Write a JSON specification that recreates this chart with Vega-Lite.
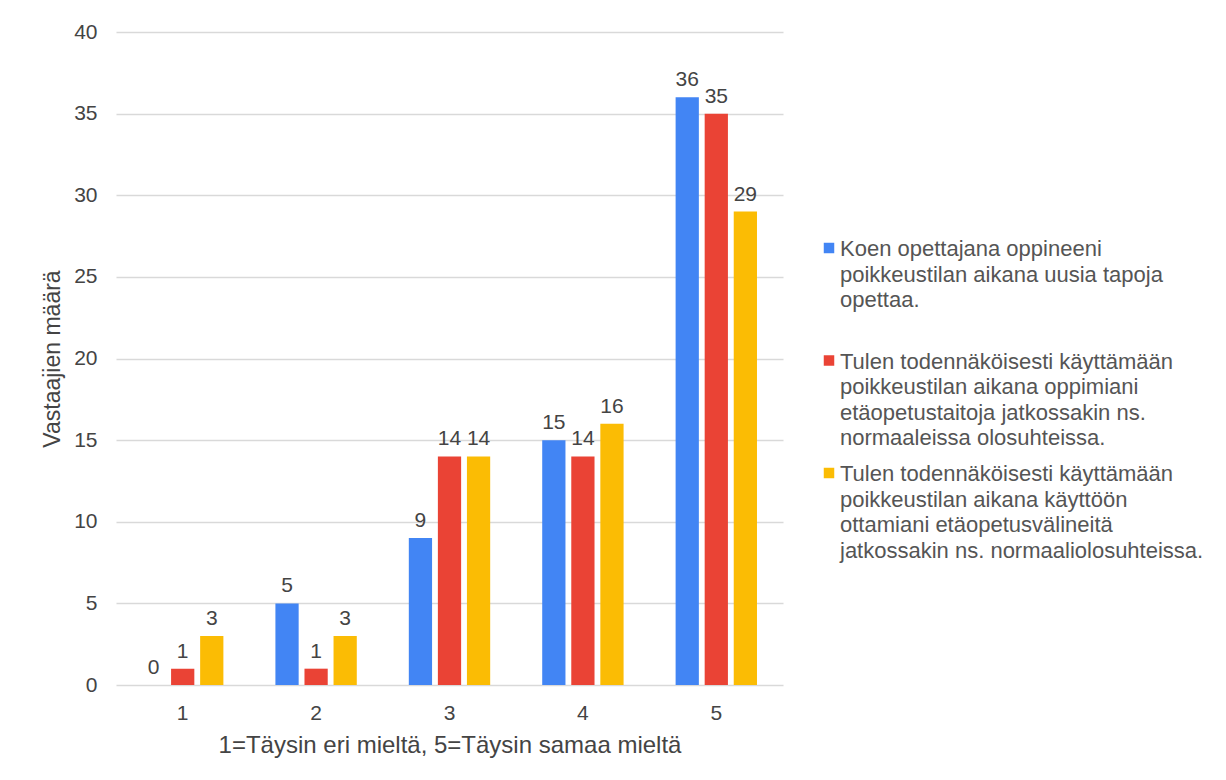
{
  "$schema": "https://vega.github.io/schema/vega-lite/v6.json",
  "width": 667,
  "height": 653,
  "autosize": {"type": "none"},
  "padding": {"left": 116, "top": 32, "right": 443, "bottom": 95},
  "background": "white",
  "data": {
    "values": [
      {"cat": "1", "series": "Koen opettajana oppineeni poikkeustilan aikana uusia tapoja opettaa.", "n": 0},
      {"cat": "1", "series": "Tulen todennäköisesti käyttämään poikkeustilan aikana oppimiani etäopetustaitoja jatkossakin ns. normaaleissa olosuhteissa.", "n": 1},
      {"cat": "1", "series": "Tulen todennäköisesti käyttämään poikkeustilan aikana käyttöön ottamiani etäopetusvälineitä jatkossakin ns. normaaliolosuhteissa.", "n": 3},
      {"cat": "2", "series": "Koen opettajana oppineeni poikkeustilan aikana uusia tapoja opettaa.", "n": 5},
      {"cat": "2", "series": "Tulen todennäköisesti käyttämään poikkeustilan aikana oppimiani etäopetustaitoja jatkossakin ns. normaaleissa olosuhteissa.", "n": 1},
      {"cat": "2", "series": "Tulen todennäköisesti käyttämään poikkeustilan aikana käyttöön ottamiani etäopetusvälineitä jatkossakin ns. normaaliolosuhteissa.", "n": 3},
      {"cat": "3", "series": "Koen opettajana oppineeni poikkeustilan aikana uusia tapoja opettaa.", "n": 9},
      {"cat": "3", "series": "Tulen todennäköisesti käyttämään poikkeustilan aikana oppimiani etäopetustaitoja jatkossakin ns. normaaleissa olosuhteissa.", "n": 14},
      {"cat": "3", "series": "Tulen todennäköisesti käyttämään poikkeustilan aikana käyttöön ottamiani etäopetusvälineitä jatkossakin ns. normaaliolosuhteissa.", "n": 14},
      {"cat": "4", "series": "Koen opettajana oppineeni poikkeustilan aikana uusia tapoja opettaa.", "n": 15},
      {"cat": "4", "series": "Tulen todennäköisesti käyttämään poikkeustilan aikana oppimiani etäopetustaitoja jatkossakin ns. normaaleissa olosuhteissa.", "n": 14},
      {"cat": "4", "series": "Tulen todennäköisesti käyttämään poikkeustilan aikana käyttöön ottamiani etäopetusvälineitä jatkossakin ns. normaaliolosuhteissa.", "n": 16},
      {"cat": "5", "series": "Koen opettajana oppineeni poikkeustilan aikana uusia tapoja opettaa.", "n": 36},
      {"cat": "5", "series": "Tulen todennäköisesti käyttämään poikkeustilan aikana oppimiani etäopetustaitoja jatkossakin ns. normaaleissa olosuhteissa.", "n": 35},
      {"cat": "5", "series": "Tulen todennäköisesti käyttämään poikkeustilan aikana käyttöön ottamiani etäopetusvälineitä jatkossakin ns. normaaliolosuhteissa.", "n": 29}
    ]
  },
  "encoding": {
    "x": {
      "field": "cat", "type": "nominal",
      "scale": {"paddingInner": 0.39, "paddingOuter": 0.195},
      "axis": {
        "title": "1=Täysin eri mieltä, 5=Täysin samaa mieltä",
        "labelAngle": 0, "ticks": false, "domain": false,
        "labelPadding": 17, "titlePadding": 10, "titleFontSize": 24
      }
    },
    "xOffset": {
      "field": "series", "type": "nominal",
      "sort": [
        "Koen opettajana oppineeni poikkeustilan aikana uusia tapoja opettaa.",
        "Tulen todennäköisesti käyttämään poikkeustilan aikana oppimiani etäopetustaitoja jatkossakin ns. normaaleissa olosuhteissa.",
        "Tulen todennäköisesti käyttämään poikkeustilan aikana käyttöön ottamiani etäopetusvälineitä jatkossakin ns. normaaliolosuhteissa."
      ],
      "scale": {"paddingInner": 0.2, "paddingOuter": 0}
    },
    "y": {
      "field": "n", "type": "quantitative",
      "scale": {"domain": [0, 40]},
      "axis": {
        "title": "Vastaajien määrä",
        "values": [0, 5, 10, 15, 20, 25, 30, 35, 40],
        "ticks": false, "domain": false,
        "labelPadding": 19, "titlePadding": 9, "titleFontSize": 23
      }
    }
  },
  "layer": [
    {
      "mark": {"type": "bar"},
      "encoding": {
        "color": {
          "field": "series", "type": "nominal",
          "scale": {
            "domain": [
              "Koen opettajana oppineeni poikkeustilan aikana uusia tapoja opettaa.",
              "Tulen todennäköisesti käyttämään poikkeustilan aikana oppimiani etäopetustaitoja jatkossakin ns. normaaleissa olosuhteissa.",
              "Tulen todennäköisesti käyttämään poikkeustilan aikana käyttöön ottamiani etäopetusvälineitä jatkossakin ns. normaaliolosuhteissa."
            ],
            "range": ["#4285F4", "#EA4335", "#FBBC04"]
          },
          "legend": {
            "title": null,
            "orient": "none",
            "legendX": 702,
            "legendY": 205,
            "symbolType": "square",
            "symbolSize": 110,
            "symbolStrokeWidth": 0,
            "labelLimit": 420,
            "labelBaseline": "top",
            "labelOffset": 0,
            "rowPadding": 12.5,
            "gridAlign": "all",
            "labelExpr": "test(/^Koen/, datum.label) ? ['Koen opettajana oppineeni', 'poikkeustilan aikana uusia tapoja', 'opettaa.'] : (test(/oppimiani/, datum.label) ? ['Tulen todennäköisesti käyttämään', 'poikkeustilan aikana oppimiani', 'etäopetustaitoja jatkossakin ns.', 'normaaleissa olosuhteissa.'] : ['Tulen todennäköisesti käyttämään', 'poikkeustilan aikana käyttöön', 'ottamiani etäopetusvälineitä', 'jatkossakin ns. normaaliolosuhteissa.'])",
            "encode": {"labels": {"update": {"lineHeight": {"value": 25.5}, "dy": {"value": -9}}}}
          }
        }
      }
    },
    {
      "mark": {"type": "text", "baseline": "bottom", "dy": -7, "fontSize": 21, "font": "Liberation Sans", "color": "#444444"},
      "encoding": {"text": {"field": "n", "type": "quantitative"}}
    }
  ],
  "config": {
    "view": {"stroke": null},
    "font": "Liberation Sans",
    "axis": {
      "labelFont": "Liberation Sans", "titleFont": "Liberation Sans",
      "labelFontSize": 21, "titleFontSize": 23,
      "labelColor": "#444444", "titleColor": "#444444",
      "titleFontWeight": "normal",
      "gridColor": "#d9d9d9", "gridWidth": 1.5
    },
    "legend": {
      "labelFont": "Liberation Sans", "labelFontSize": 22, "labelColor": "#555555"
    }
  }
}
